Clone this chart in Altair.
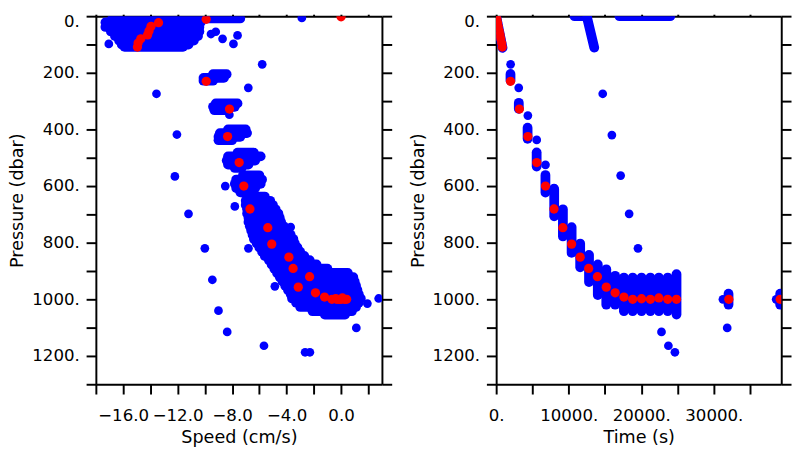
import altair as alt
import pandas as pd

BLUE = "#0000ff"
RED = "#ff0000"

# ---------------- data ----------------
# Left panel: dense blue clouds, given as rows of dots (pressure, speed from, speed to)
row_p = [8, 22, 38, 54, 70, 86, 100, 108,
         205, 218, 228,
         308, 320, 332,
         400, 413, 426, 438,
         482, 495, 510, 524, 536,
         562, 577, 592, 607, 622,
         637, 652, 667, 682, 697, 712, 727, 742, 757, 772, 787, 802, 817, 832,
         847, 862, 877, 892, 907, 922, 937, 952, 967, 982, 997, 1012, 1027, 1042, 1054]
row_s0 = [-16.8, -17.3, -17.3, -16.9, -16.6, -16.3, -16.1, -15.9,
          -9.4, -10.1, -10.1,
          -9.2, -9.4, -9.3,
          -8.3, -8.9, -9.0, -9.0,
          -7.6, -8.3, -8.4, -8.3, -7.8,
          -7.2, -7.7, -7.8, -7.7, -7.4,
          -6.9, -7.0, -7.0, -6.9, -6.9, -6.8, -6.8, -6.7, -6.6, -6.5, -6.4, -6.2, -6.0, -5.8,
          -5.6, -5.3, -5.1, -4.9, -4.7, -4.5, -4.3, -4.1, -3.9, -3.7, -3.6, -3.3, -3.0, -2.1, -1.2]
row_s1 = [-7.4, -10.3, -10.4, -10.4, -10.5, -10.8, -11.2, -11.6,
          -8.4, -8.6, -9.4,
          -7.6, -7.8, -8.3,
          -7.0, -6.9, -7.4, -8.0,
          -6.4, -5.9, -6.3, -6.8, -7.3,
          -6.0, -5.8, -5.9, -6.3, -6.7,
          -5.6, -5.2, -5.0, -4.8, -4.6, -4.5, -4.4, -4.2, -3.9, -3.7, -3.5, -3.4, -3.2, -3.0,
          -2.7, -2.3, -1.8, -1.0, 0.5, 0.9, 1.0, 1.1, 1.2, 1.3, 1.45, 1.3, 1.1, 0.8, 0.3]

# Left panel: isolated blue points
lone_speed = [-17.05, -9.55, -9.2, -8.7, -7.9, -7.6, -2.88, -5.79, -6.81, -13.55, -8.2,
              -12.05, -12.2, -8.5, -7.8, -11.2, -3.7, -10.0, -6.8, -9.45, -4.86, -9.0,
              -8.36, -5.66, -2.64, -2.29, 1.12, 1.93, 2.76]
lone_pres = [98, 63, 55, 80, 98, 68, 6, 170, 253, 274, 348,
             418, 566, 600, 672, 698, 745, 820, 820, 931, 954, 1040,
             1115, 1164, 1187, 1187, 1101, 1015, 997]

# Red points (same records in both panels)
red_speed = [0.0, -9.9, -13.4, -13.95, -14.1, -14.2, -14.7, -14.9, -14.95,
             -9.9, -8.19, -8.33, -7.48, -7.14, -6.69, -5.38, -5.09, -3.83, -3.52,
             -2.31, -3.14, -1.88, -1.21, -0.67, -0.4, -0.14, 0.1, 0.41, 0.25, -0.3, 0.0]
red_time = [0, 100, 190, 280, 420, 530, 630, 760, 840,
            1980, 3200, 4370, 5590, 6800, 7970, 9190, 10400, 11580, 12750,
            13960, 15180, 16400, 17610, 18820, 20040, 21260, 22430, 23650, 24860, 32070, 39150]
red_pres = [2, 11, 23, 36, 52, 66, 80, 95, 109,
            230, 328, 425, 517, 600, 681, 747, 805, 851, 891,
            920, 957, 977, 992, 1000, 998, 1000, 995, 1000, 1000, 1000, 1000]

# Right panel: blue columns of dots (time, pressure from, pressure to)
col_time = [1975, 3120, 4330, 5580, 6790, 8000, 9200, 10400, 11580, 12800, 14010,
            15180, 16400, 17610, 18820, 20040, 21260, 22430, 23650, 24860, 32030, 39150]
col_p0 = [204, 306, 394, 481, 561, 610, 682, 745, 803, 843, 877,
          894, 917, 923, 923, 923, 923, 923, 923, 911, 980, 980]
col_p1 = [227, 327, 433, 531, 623, 707, 778, 836, 887, 939, 985,
          1019, 1019, 1042, 1042, 1042, 1042, 1042, 1042, 1054, 1019, 1019]

# Right panel: blue streaks near the surface (time from/to, pressure from/to)
streak_t0 = [0, 10800, 12540, 17000]
streak_t1 = [880, 12540, 13520, 24000]
streak_p0 = [0, 0, 6, 0]
streak_p1 = [112, 0, 111, 0]

# Right panel: isolated blue points
rlone_time = [1990, 3110, 4370, 5590, 6800, 7970, 14690, 15950, 17160, 18330, 19550,
              22790, 23740, 24640, 31850, 31260, 38600]
rlone_pres = [170, 253, 351, 437, 525, 607, 274, 420, 563, 698, 820,
              1115, 1164, 1187, 1101, 1000, 1000]

speed_ticks = [-18, -16, -14, -12, -10, -8, -6, -4, -2, 0, 2]
pres_ticks = [0, 100, 200, 300, 400, 500, 600, 700, 800, 900, 1000, 1100, 1200, 1300]
time_ticks = [0, 5000, 10000, 15000, 20000, 25000, 30000, 35000]

# ---------------- frames ----------------
rows_df = pd.DataFrame({"p": row_p, "s0": row_s0, "s1": row_s1})
lone_df = pd.DataFrame({"s": lone_speed, "p": lone_pres})
red_df = pd.DataFrame({"s": red_speed, "t": red_time, "p": red_pres})
col_df = pd.DataFrame({"t": col_time, "p0": col_p0, "p1": col_p1})
streak_df = pd.DataFrame({"t0": streak_t0, "t1": streak_t1, "p0": streak_p0, "p1": streak_p1})
rlone_df = pd.DataFrame({"t": rlone_time, "p": rlone_pres})

# ---------------- scales & axes ----------------
ys = alt.Scale(domain=[0, 1300], reverse=True, nice=False, zero=False)
xs_speed = alt.Scale(domain=[-18, 3], nice=False, zero=False)
xs_time = alt.Scale(domain=[0, 39300], nice=False, zero=False)

y_left = alt.Axis(orient="left", values=pres_ticks,
                  labelExpr="datum.value % 200 == 0 ? datum.value + '.' : ''",
                  title="Pressure (dbar)", tickSize=10, labelPadding=7, titlePadding=5,
                  grid=False, labelOverlap=False, labelFlush=True, labelFlushOffset=2)
y_right = alt.Axis(orient="right", values=pres_ticks, labels=False, title=None,
                   tickSize=10, grid=False)

x_speed_bottom = alt.Axis(orient="bottom", values=speed_ticks,
                          labelExpr="datum.value % 4 == 0 ? (datum.value < 0 ? '\u2212' + format(-datum.value, '.1f') : format(datum.value, '.1f')) : ''",
                          title="Speed (cm/s)", tickSize=10, labelPadding=14, titlePadding=6,
                          grid=False, labelOverlap=False, labelFlush=False)
x_speed_top = alt.Axis(orient="top", values=speed_ticks, labels=False, title=None,
                       tickSize=2, grid=False)

x_time_bottom = alt.Axis(orient="bottom", values=time_ticks,
                         labelExpr="datum.value % 10000 == 0 ? datum.value + '.' : ''",
                         title="Time (s)", tickSize=10, labelPadding=14, titlePadding=6,
                         grid=False, labelOverlap=False, labelFlush=False)
x_time_top = alt.Axis(orient="top", values=time_ticks, labels=False, title=None,
                      tickSize=2, grid=False)

W_L, W_R, H = 293, 292, 377
DOT = 80
RDOT = 90
SW = 10

# ---------------- left panel ----------------
l_rows = alt.Chart(rows_df).mark_rule(color=BLUE, strokeWidth=SW, strokeCap="round", clip=True).encode(
    x=alt.X("s0:Q", scale=xs_speed, axis=x_speed_bottom),
    x2="s1:Q",
    y=alt.Y("p:Q", scale=ys, axis=y_left),
)
l_lone = alt.Chart(lone_df).mark_circle(color=BLUE, size=DOT, opacity=1, clip=True).encode(
    x=alt.X("s:Q", scale=xs_speed, axis=None),
    y=alt.Y("p:Q", scale=ys, axis=None),
)
l_red = alt.Chart(red_df).mark_circle(color=RED, size=RDOT, opacity=1, clip=True).encode(
    x=alt.X("s:Q", scale=xs_speed, axis=x_speed_top),
    y=alt.Y("p:Q", scale=ys, axis=y_right),
)
left = alt.layer(l_rows, l_lone, l_red).resolve_axis(x="independent", y="independent").properties(
    width=W_L, height=H)

# ---------------- right panel ----------------
r_cols = alt.Chart(col_df).mark_rule(color=BLUE, strokeWidth=SW, strokeCap="round", clip=True).encode(
    x=alt.X("t:Q", scale=xs_time, axis=x_time_bottom),
    y=alt.Y("p0:Q", scale=ys, axis=y_left),
    y2="p1:Q",
)
r_streak = alt.Chart(streak_df).mark_rule(color=BLUE, strokeWidth=SW, strokeCap="round", clip=True).encode(
    x=alt.X("t0:Q", scale=xs_time, axis=None),
    x2="t1:Q",
    y=alt.Y("p0:Q", scale=ys, axis=None),
    y2="p1:Q",
)
r_lone = alt.Chart(rlone_df).mark_circle(color=BLUE, size=DOT, opacity=1, clip=True).encode(
    x=alt.X("t:Q", scale=xs_time, axis=None),
    y=alt.Y("p:Q", scale=ys, axis=None),
)
r_red = alt.Chart(red_df).mark_circle(color=RED, size=RDOT, opacity=1, clip=True).encode(
    x=alt.X("t:Q", scale=xs_time, axis=x_time_top),
    y=alt.Y("p:Q", scale=ys, axis=y_right),
)
right = alt.layer(r_cols, r_streak, r_lone, r_red).resolve_axis(x="independent", y="independent").properties(
    width=W_R, height=H)

chart = alt.hconcat(left, right, spacing=17).properties(
    padding={"left": 1, "top": 0, "right": 0, "bottom": 0},
    background="white",
).configure_axis(
    labelFont="DejaVu Sans", labelFontSize=17, labelColor="black",
    titleFont="DejaVu Sans", titleFontSize=18, titleFontWeight="normal", titleColor="black",
    domainColor="black", tickColor="black", domainWidth=2, tickWidth=2,
).configure_view(strokeWidth=0)

chart.save("out.html", embed_options={"renderer": "svg", "actions": False})
